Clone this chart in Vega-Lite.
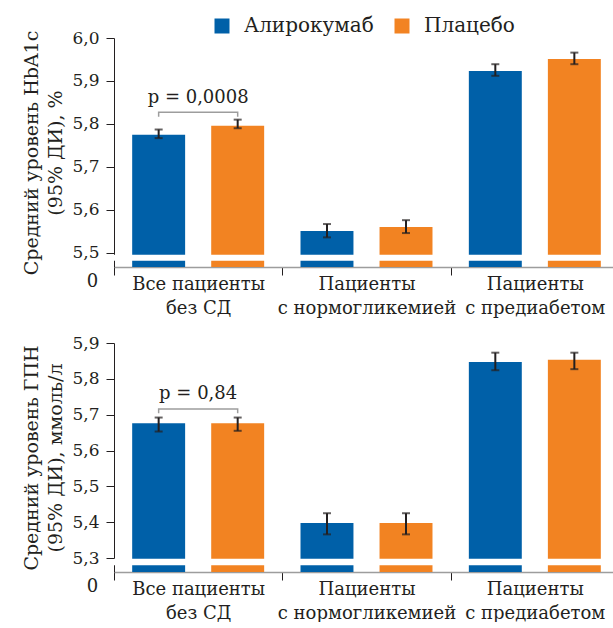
{
  "$schema": "https://vega.github.io/schema/vega-lite/v6.json",
  "padding": {"left": 22, "top": 16, "right": 0, "bottom": 0},
  "bounds": "flush",
  "spacing": 76,
  "datasets": {
    "hba1c": [
      {"group": "Все пациенты|без СД", "series": "Алирокумаб", "mean": 5.775, "lo": 5.767, "hi": 5.787},
      {"group": "Все пациенты|без СД", "series": "Плацебо", "mean": 5.796, "lo": 5.790, "hi": 5.810},
      {"group": "Пациенты|с нормогликемией", "series": "Алирокумаб", "mean": 5.551, "lo": 5.536, "hi": 5.567},
      {"group": "Пациенты|с нормогликемией", "series": "Плацебо", "mean": 5.560, "lo": 5.546, "hi": 5.576},
      {"group": "Пациенты|с предиабетом", "series": "Алирокумаб", "mean": 5.923, "lo": 5.912, "hi": 5.939},
      {"group": "Пациенты|с предиабетом", "series": "Плацебо", "mean": 5.951, "lo": 5.939, "hi": 5.966}
    ],
    "fpg": [
      {"group": "Все пациенты|без СД", "series": "Алирокумаб", "mean": 5.676, "lo": 5.653, "hi": 5.692},
      {"group": "Все пациенты|без СД", "series": "Плацебо", "mean": 5.676, "lo": 5.655, "hi": 5.692},
      {"group": "Пациенты|с нормогликемией", "series": "Алирокумаб", "mean": 5.398, "lo": 5.366, "hi": 5.425},
      {"group": "Пациенты|с нормогликемией", "series": "Плацебо", "mean": 5.398, "lo": 5.366, "hi": 5.425},
      {"group": "Пациенты|с предиабетом", "series": "Алирокумаб", "mean": 5.847, "lo": 5.824, "hi": 5.873},
      {"group": "Пациенты|с предиабетом", "series": "Плацебо", "mean": 5.853, "lo": 5.827, "hi": 5.873}
    ],
    "bracketTop": [
      {"group": "Все пациенты|без СД", "series": "Алирокумаб", "y": 5.817, "o": 1},
      {"group": "Все пациенты|без СД", "series": "Алирокумаб", "y": 5.827, "o": 2},
      {"group": "Все пациенты|без СД", "series": "Плацебо", "y": 5.827, "o": 3},
      {"group": "Все пациенты|без СД", "series": "Плацебо", "y": 5.817, "o": 4}
    ],
    "bracketBottom": [
      {"group": "Все пациенты|без СД", "series": "Алирокумаб", "y": 5.704, "o": 1},
      {"group": "Все пациенты|без СД", "series": "Алирокумаб", "y": 5.716, "o": 2},
      {"group": "Все пациенты|без СД", "series": "Плацебо", "y": 5.716, "o": 3},
      {"group": "Все пациенты|без СД", "series": "Плацебо", "y": 5.704, "o": 4}
    ],
    "pTop": [{"group": "Все пациенты|без СД", "y": 5.849, "label": "p = 0,0008"}],
    "pBottom": [{"group": "Все пациенты|без СД", "y": 5.744, "label": "p = 0,84"}],
    "zeroTop": [{"group": "Все пациенты|без СД", "y": 5.467, "label": "0"}],
    "zeroBottom": [{"group": "Все пациенты|без СД", "y": 5.261, "label": "0"}],
    "blank": [{}]
  },
  "vconcat": [
    {
      "width": 505,
      "height": 229,
      "layer": [
        {
          "data": {"name": "hba1c"},
          "mark": {"type": "bar"},
          "encoding": {
            "x": {"field": "group", "type": "nominal", "sort": null,
                  "scale": {"paddingInner": 0, "paddingOuter": 0},
                  "axis": {"title": null, "labelExpr": "split(datum.label, '|')"}},
            "xOffset": {"field": "series", "type": "nominal", "sort": null, "scale": {"paddingInner": 0.33, "paddingOuter": 0.23}},
            "y": {"field": "mean", "type": "quantitative",
                  "scale": {"domain": [5.467, 6.0], "zero": false, "nice": false},
                  "axis": {"title": ["Средний уровень HbA1c", "(95% ДИ), %"],
                           "values": [5.5, 5.6, 5.7, 5.8, 5.9, 6.0],
                           "tickCount": 20,
                           "labelOverlap": false,
                           "labelExpr": "replace(format(datum.value, '.1f'), '.', ',')"}},
            "y2": {"datum": 5.467},
            "color": {"field": "series", "type": "nominal", "sort": null,
                      "scale": {"domain": ["Алирокумаб", "Плацебо"], "range": ["#0060A8", "#F28322"]},
                      "legend": {"title": null, "orient": "none", "direction": "horizontal", "legendX": 98, "legendY": -22,
                                 "symbolType": "square", "symbolSize": 225, "symbolStrokeWidth": 0,
                                 "labelFontSize": 20, "labelOffset": 12, "columnPadding": 18, "labelColor": "#231F20",
                                 "labelFont": "DejaVu Serif"}}
          }
        },
        {
          "data": {"name": "blank"},
          "mark": {"type": "rect", "color": "white"},
          "encoding": {"y": {"datum": 5.4814}, "y2": {"datum": 5.4953}}
        },
        {
          "data": {"name": "hba1c"},
          "mark": {"type": "rule", "color": "#231F20", "strokeWidth": 2},
          "encoding": {
            "x": {"field": "group", "type": "nominal", "sort": null},
            "xOffset": {"field": "series", "type": "nominal", "sort": null},
            "y": {"field": "lo", "type": "quantitative"},
            "y2": {"field": "hi"}
          }
        },
        {
          "data": {"name": "hba1c"},
          "mark": {"type": "tick", "color": "#231F20", "size": 8, "thickness": 2},
          "encoding": {
            "x": {"field": "group", "type": "nominal", "sort": null},
            "xOffset": {"field": "series", "type": "nominal", "sort": null},
            "y": {"field": "lo", "type": "quantitative"}
          }
        },
        {
          "data": {"name": "hba1c"},
          "mark": {"type": "tick", "color": "#231F20", "size": 8, "thickness": 2},
          "encoding": {
            "x": {"field": "group", "type": "nominal", "sort": null},
            "xOffset": {"field": "series", "type": "nominal", "sort": null},
            "y": {"field": "hi", "type": "quantitative"}
          }
        },
        {
          "data": {"name": "bracketTop"},
          "mark": {"type": "line", "color": "#9D9D9D", "strokeWidth": 1.5},
          "encoding": {
            "x": {"field": "group", "type": "nominal", "sort": null},
            "xOffset": {"field": "series", "type": "nominal", "sort": null},
            "y": {"field": "y", "type": "quantitative"},
            "order": {"field": "o"}
          }
        },
        {
          "data": {"name": "pTop"},
          "mark": {"type": "text", "fontSize": 18, "color": "#231F20", "baseline": "alphabetic", "font": "DejaVu Serif"},
          "encoding": {
            "x": {"field": "group", "type": "nominal", "sort": null},
            "y": {"field": "y", "type": "quantitative"},
            "text": {"field": "label"}
          }
        },
        {
          "data": {"name": "zeroTop"},
          "mark": {"type": "text", "fontSize": 18, "color": "#231F20", "baseline": "top", "align": "right", "dx": -100, "dy": 6, "font": "DejaVu Serif"},
          "encoding": {
            "x": {"field": "group", "type": "nominal", "sort": null},
            "y": {"field": "y", "type": "quantitative"},
            "text": {"field": "label"}
          }
        }
      ]
    },
    {
      "width": 505,
      "height": 229,
      "layer": [
        {
          "data": {"name": "fpg"},
          "mark": {"type": "bar"},
          "encoding": {
            "x": {"field": "group", "type": "nominal", "sort": null,
                  "scale": {"paddingInner": 0, "paddingOuter": 0},
                  "axis": {"title": null, "labelExpr": "split(datum.label, '|')"}},
            "xOffset": {"field": "series", "type": "nominal", "sort": null, "scale": {"paddingInner": 0.33, "paddingOuter": 0.23}},
            "y": {"field": "mean", "type": "quantitative",
                  "scale": {"domain": [5.261, 5.9], "zero": false, "nice": false},
                  "axis": {"title": ["Средний уровень ГПН", "(95% ДИ), ммоль/л"],
                           "values": [5.3, 5.4, 5.5, 5.6, 5.7, 5.8, 5.9],
                           "tickCount": 20,
                           "labelOverlap": false,
                           "labelExpr": "replace(format(datum.value, '.1f'), '.', ',')"}},
            "y2": {"datum": 5.261},
            "color": {"field": "series", "type": "nominal", "sort": null,
                      "scale": {"domain": ["Алирокумаб", "Плацебо"], "range": ["#0060A8", "#F28322"]}}
          }
        },
        {
          "data": {"name": "blank"},
          "mark": {"type": "rect", "color": "white"},
          "encoding": {"y": {"datum": 5.280}, "y2": {"datum": 5.298}}
        },
        {
          "data": {"name": "fpg"},
          "mark": {"type": "rule", "color": "#231F20", "strokeWidth": 2},
          "encoding": {
            "x": {"field": "group", "type": "nominal", "sort": null},
            "xOffset": {"field": "series", "type": "nominal", "sort": null},
            "y": {"field": "lo", "type": "quantitative"},
            "y2": {"field": "hi"}
          }
        },
        {
          "data": {"name": "fpg"},
          "mark": {"type": "tick", "color": "#231F20", "size": 8, "thickness": 2},
          "encoding": {
            "x": {"field": "group", "type": "nominal", "sort": null},
            "xOffset": {"field": "series", "type": "nominal", "sort": null},
            "y": {"field": "lo", "type": "quantitative"}
          }
        },
        {
          "data": {"name": "fpg"},
          "mark": {"type": "tick", "color": "#231F20", "size": 8, "thickness": 2},
          "encoding": {
            "x": {"field": "group", "type": "nominal", "sort": null},
            "xOffset": {"field": "series", "type": "nominal", "sort": null},
            "y": {"field": "hi", "type": "quantitative"}
          }
        },
        {
          "data": {"name": "bracketBottom"},
          "mark": {"type": "line", "color": "#9D9D9D", "strokeWidth": 1.5},
          "encoding": {
            "x": {"field": "group", "type": "nominal", "sort": null},
            "xOffset": {"field": "series", "type": "nominal", "sort": null},
            "y": {"field": "y", "type": "quantitative"},
            "order": {"field": "o"}
          }
        },
        {
          "data": {"name": "pBottom"},
          "mark": {"type": "text", "fontSize": 18, "color": "#231F20", "baseline": "alphabetic", "font": "DejaVu Serif"},
          "encoding": {
            "x": {"field": "group", "type": "nominal", "sort": null},
            "y": {"field": "y", "type": "quantitative"},
            "text": {"field": "label"}
          }
        },
        {
          "data": {"name": "zeroBottom"},
          "mark": {"type": "text", "fontSize": 18, "color": "#231F20", "baseline": "top", "align": "right", "dx": -100, "dy": 6, "font": "DejaVu Serif"},
          "encoding": {
            "x": {"field": "group", "type": "nominal", "sort": null},
            "y": {"field": "y", "type": "quantitative"},
            "text": {"field": "label"}
          }
        }
      ]
    }
  ],
  "config": {
    "font": "DejaVu Serif",
    "view": {"stroke": null},
    "legend": {"labelFont": "DejaVu Serif"},
    "axis": {"zindex": 0, "grid": false, "labelFont": "DejaVu Serif", "titleFont": "DejaVu Serif", "labelColor": "#231F20", "titleColor": "#231F20", "titleFontWeight": "normal"},
    "axisY": {"domainColor": "#231F20", "domainWidth": 1, "tickColor": "#231F20", "tickSize": 8, "labelFontSize": 17, "labelPadding": 7, "titleFontSize": 19, "titleLineHeight": 24, "titlePadding": 6},
    "axisX": {"domainColor": "#9D9D9D", "domainWidth": 1.5, "tickColor": "#231F20", "tickSize": 8, "tickBand": "extent", "labelAngle": 0, "labelFontSize": 18, "labelLineHeight": 24, "labelPadding": 0, "labelBaseline": "top", "labelLimit": 0}
  }
}
